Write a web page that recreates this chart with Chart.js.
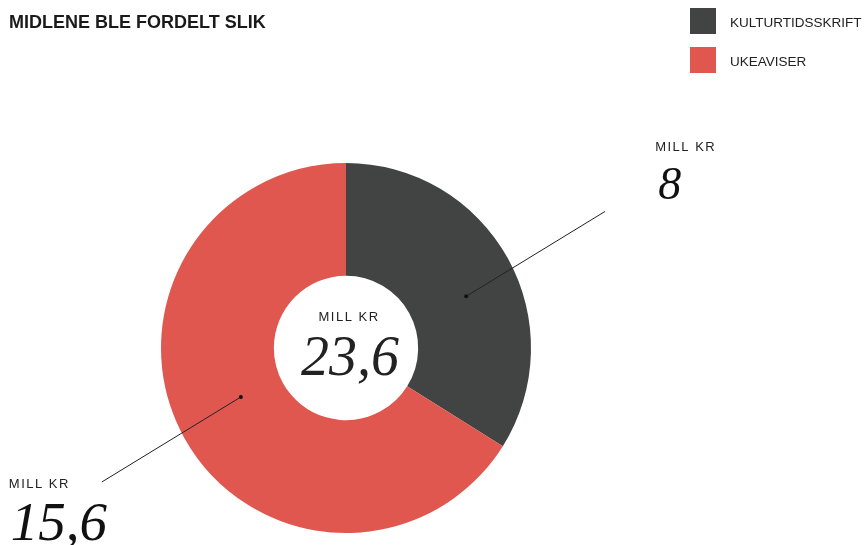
<!DOCTYPE html>
<html>
<head>
<meta charset="utf-8">
<script src="https://cdn.jsdelivr.net/npm/chart.js@4"></script>
<style>
  html, body { margin: 0; padding: 0; background: #fff; }
  #wrap { width: 865px; height: 545px; position: relative; }
</style>
</head>
<body>
<div id="wrap"><canvas id="chart" width="865" height="545"></canvas></div>
<script>
var title = "MIDLENE BLE FORDELT SLIK";
var categories = ["KULTURTIDSSKRIFT", "UKEAVISER"];
var values = [8, 15.6];
var valueLabels = ["8", "15,6"];
var totalLabel = "23,6";
var unitLabel = "MILL KR";
var colors = ["#424443", "#e0574f"];

var sans = "'Liberation Sans', Arial, sans-serif";
var serif = "'Liberation Serif', 'Times New Roman', serif";

function spaced(ctx, on) {
    if (ctx.letterSpacing !== undefined) ctx.letterSpacing = on ? "1.5px" : "0px";
}

// title, legend, center text and the two leader labels
var annotations = {
    id: "annotations",
    afterDraw: function(chart) {
        var ctx = chart.ctx;
        ctx.save();
        ctx.textBaseline = "alphabetic";

        ctx.fillStyle = "#1a1a1a";
        ctx.font = "bold 18px " + sans;
        ctx.fillText(title, 9, 28);

        // legend
        ctx.font = "13.5px " + sans;
        categories.forEach(function(c, i) {
            var y = 8 + i * 39;
            ctx.fillStyle = colors[i];
            ctx.fillRect(690, y, 26, 26);
            ctx.fillStyle = "#222";
            ctx.fillText(c, 730, y + 19);
        });

        var meta = chart.getDatasetMeta(0);
        var arc0 = meta.data[0];
        var cx = arc0.x, cy = arc0.y;

        // center
        ctx.textAlign = "center";
        ctx.fillStyle = "#222";
        ctx.font = "13px " + sans;
        spaced(ctx, true);
        ctx.fillText(unitLabel, cx + 3, cy - 27);
        spaced(ctx, false);
        ctx.font = "italic 56px " + serif;
        ctx.fillText(totalLabel, cx + 4, cy + 27);

        // leader lines: anchor dot inside each slice
        var anchors = [{ r: 0.707, da: 0.10 }, { r: 0.627, da: 0.07 }];
        meta.data.forEach(function(arc, i) {
            var mid = (arc.startAngle + arc.endAngle) / 2 + anchors[i].da;
            var rr = arc.outerRadius * anchors[i].r;
            var px = arc.x + Math.cos(mid) * rr;
            var py = arc.y + Math.sin(mid) * rr;
            var sign = i === 0 ? 1 : -1;
            var ex = px + sign * 139, ey = py - sign * 85;
            ctx.strokeStyle = "#222";
            ctx.lineWidth = 1;
            ctx.beginPath();
            ctx.moveTo(px, py);
            ctx.lineTo(ex, ey);
            ctx.stroke();
            ctx.fillStyle = "#111";
            ctx.beginPath();
            ctx.arc(px, py, 2, 0, Math.PI * 2);
            ctx.fill();

            ctx.textAlign = "left";
            var lx, ly;
            if (i === 0) { lx = ex + 50; ly = ey - 60; }
            else { lx = ex - 93; ly = ey + 6; }
            ctx.fillStyle = "#222";
            ctx.font = "13px " + sans;
            spaced(ctx, true);
            ctx.fillText(unitLabel, lx, ly);
            spaced(ctx, false);
            ctx.fillStyle = "#111";
            if (i === 0) {
                ctx.font = "italic 46px " + serif;
                ctx.fillText(valueLabels[i], lx + 3, ly + 48);
            } else {
                ctx.font = "italic 55px " + serif;
                ctx.fillText(valueLabels[i], lx + 2, ly + 52);
            }
        });
        ctx.restore();
    }
};

var chart = new Chart(document.getElementById("chart"), {
    type: "doughnut",
    data: {
        labels: categories,
        datasets: [{
            data: values,
            backgroundColor: colors,
            borderWidth: 0
        }]
    },
    options: {
        responsive: false,
        animation: false,
        cutout: "39%",
        layout: {
            padding: { top: 163, bottom: 12, left: 161, right: 334 }
        },
        plugins: {
            legend: { display: false },
            title: { display: false },
            tooltip: { enabled: false }
        }
    },
    plugins: [annotations]
});
</script>
</body>
</html>
